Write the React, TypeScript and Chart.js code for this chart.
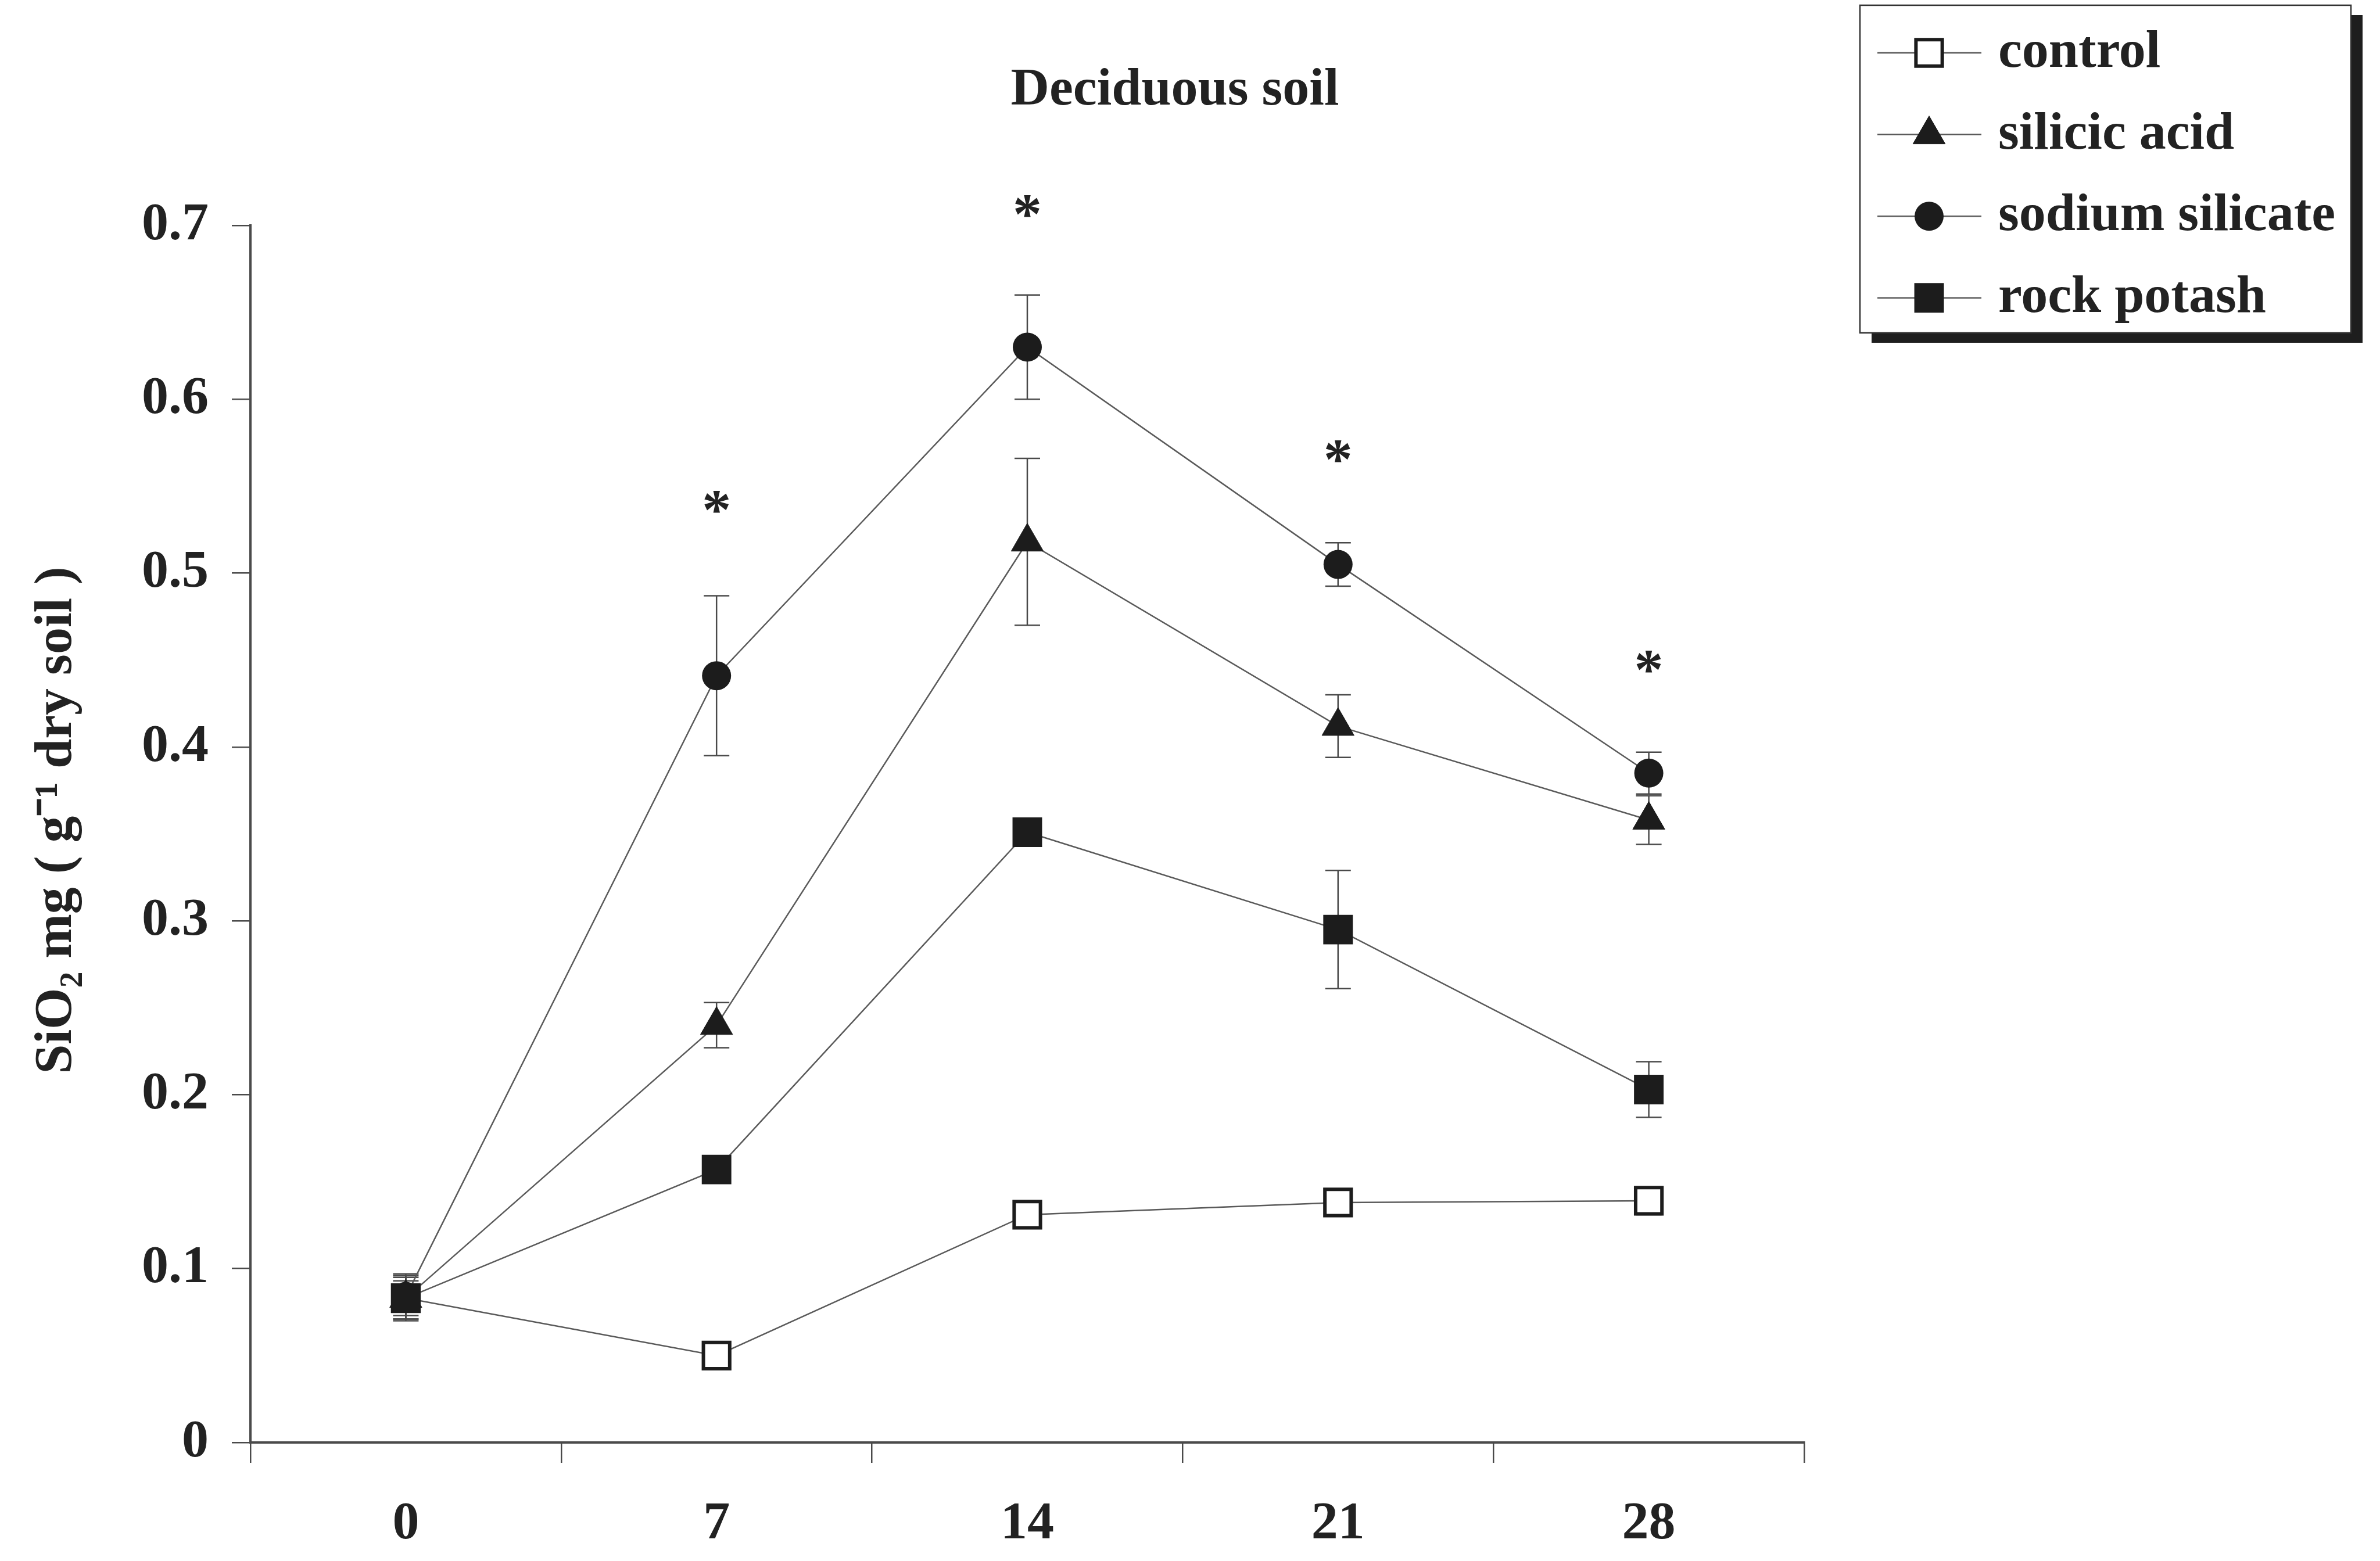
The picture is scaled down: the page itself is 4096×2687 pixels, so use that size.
import React, { useEffect, useRef } from 'react';
import { Chart, registerables } from 'chart.js';

Chart.register(...registerables);

// ---------- data ----------
const days = ['0', '7', '14', '21', '28'];
const yTickLabels = ['0', '0.1', '0.2', '0.3', '0.4', '0.5', '0.6', '0.7'];
const seriesNames = ['control', 'silicic acid', 'sodium silicate', 'rock potash'];

const controlValues = [0.083, 0.05, 0.131, 0.138, 0.139];
const controlErrors = [0.012, 0.008, 0.006, 0.006, 0.008];
const silicicValues = [0.083, 0.24, 0.518, 0.412, 0.358];
const silicicErrors = [0.010, 0.013, 0.048, 0.018, 0.014];
const sodiumValues = [0.084, 0.441, 0.63, 0.505, 0.385];
const sodiumErrors = [0.013, 0.046, 0.03, 0.0125, 0.012];
const potashValues = [0.083, 0.157, 0.351, 0.295, 0.203];
const potashErrors = [0.013, 0.006, 0.006, 0.034, 0.016];

// y value (data units) of the significance asterisks; null = none
const significanceMarkY = [null, 0.541, 0.711, 0.570, 0.449];

const chartTitle = 'Deciduous soil';
const yAxisTitle = 'SiO\u2082 mg ( g\u207B\u00B9 dry soil )';

// ---------- styles ----------
const FONT = "'Liberation Serif', 'Times New Roman', serif";
const FONT_SIZE = 92;
const TEXT = '#222222';
const AXIS = '#4a4a4a';
const LINE = '#5a5a5a';
const MARK = '#1c1c1c';

const markerStyles = ['openRect', 'triangle', 'circle', 'rect'];
const R_CIRCLE = 25;
const R_TRI = 32;
const R_RECT = 36;
const R_OPEN = 32;
const OPEN_BW = 6;

function drawMarker(ctx: CanvasRenderingContext2D, style: string, x: number, y: number) {
  ctx.save();
  ctx.fillStyle = MARK;
  ctx.strokeStyle = MARK;
  ctx.lineWidth = 1;
  ctx.beginPath();
  if (style === 'circle') {
    ctx.arc(x, y, R_CIRCLE, 0, Math.PI * 2);
    ctx.fill();
  } else if (style === 'triangle') {
    const r = R_TRI;
    ctx.moveTo(x, y - r);
    ctx.lineTo(x + r * Math.sin((2 * Math.PI) / 3), y - r * Math.cos((2 * Math.PI) / 3));
    ctx.lineTo(x + r * Math.sin((4 * Math.PI) / 3), y - r * Math.cos((4 * Math.PI) / 3));
    ctx.closePath();
    ctx.fill();
    ctx.stroke();
  } else if (style === 'rect') {
    const s = R_RECT * Math.SQRT1_2;
    ctx.rect(x - s, y - s, 2 * s, 2 * s);
    ctx.fill();
  } else {
    const s = R_OPEN * Math.SQRT1_2;
    ctx.rect(x - s, y - s, 2 * s, 2 * s);
    ctx.fillStyle = '#ffffff';
    ctx.fill();
    ctx.lineWidth = OPEN_BW;
    ctx.stroke();
  }
  ctx.restore();
}

const seriesValues = [controlValues, silicicValues, sodiumValues, potashValues];
const seriesErrors = [controlErrors, silicicErrors, sodiumErrors, potashErrors];

const annotationsPlugin = {
  id: 'annotations',
  beforeDatasetsDraw(chart: any) {
    const ctx: CanvasRenderingContext2D = chart.ctx;
    const yScale = chart.scales.y;
    ctx.save();
    ctx.strokeStyle = AXIS;
    ctx.lineWidth = 2.5;
    seriesValues.forEach((vals, d) => {
      const meta = chart.getDatasetMeta(d);
      vals.forEach((v, i) => {
        const e = seriesErrors[d][i];
        if (!e) return;
        const x = meta.data[i].x;
        const yt = yScale.getPixelForValue(v + e);
        const yb = yScale.getPixelForValue(v - e);
        ctx.beginPath();
        ctx.moveTo(x, yt);
        ctx.lineTo(x, yb);
        ctx.moveTo(x - 22, yt);
        ctx.lineTo(x + 22, yt);
        ctx.moveTo(x - 22, yb);
        ctx.lineTo(x + 22, yb);
        ctx.stroke();
      });
    });
    ctx.restore();
  },
  afterDraw(chart: any) {
    const ctx: CanvasRenderingContext2D = chart.ctx;
    const xScale = chart.scales.x;
    const yScale = chart.scales.y;
    ctx.save();
    ctx.fillStyle = TEXT;

    // title
    ctx.font = `bold ${FONT_SIZE}px ${FONT}`;
    ctx.textAlign = 'center';
    ctx.textBaseline = 'alphabetic';
    ctx.fillText(chartTitle, 2022, 180);

    // y axis title
    ctx.save();
    ctx.translate(122, 1412);
    ctx.rotate(-Math.PI / 2);
    ctx.textAlign = 'center';
    ctx.fillText(yAxisTitle, 0, 0);
    ctx.restore();

    // significance asterisks
    ctx.font = `bold 100px ${FONT}`;
    ctx.textAlign = 'center';
    const m = ctx.measureText('*');
    const off = (m.actualBoundingBoxAscent - m.actualBoundingBoxDescent) / 2;
    significanceMarkY.forEach((v, i) => {
      if (v == null) return;
      const x = xScale.getPixelForValue(i);
      const y = yScale.getPixelForValue(v);
      ctx.fillText('*', x, y + off);
    });

    // legend box with shadow
    const bx = 3201, by = 9, bw = 845, bh = 564;
    ctx.fillStyle = '#1e1e1e';
    ctx.fillRect(bx + 20, by + 17, bw, bh);
    ctx.fillStyle = '#ffffff';
    ctx.fillRect(bx, by, bw, bh);
    ctx.strokeStyle = '#333333';
    ctx.lineWidth = 2.5;
    ctx.strokeRect(bx, by, bw, bh);

    ctx.font = `bold ${FONT_SIZE}px ${FONT}`;
    ctx.textAlign = 'left';
    ctx.textBaseline = 'alphabetic';
    seriesNames.forEach((name, i) => {
      const y = 91 + i * 140.6;
      ctx.strokeStyle = LINE;
      ctx.lineWidth = 2.5;
      ctx.beginPath();
      ctx.moveTo(3231, y);
      ctx.lineTo(3410, y);
      ctx.stroke();
      drawMarker(ctx, markerStyles[i], 3320, y);
      ctx.fillStyle = TEXT;
      ctx.fillText(name, 3439, y + 24);
    });
    ctx.restore();
  },
};

function makeDataset(i: number) {
  const style = markerStyles[i];
  const base: any = {
    label: seriesNames[i],
    data: seriesValues[i],
    borderColor: LINE,
    borderWidth: 2.5,
    tension: 0,
    fill: false,
    pointBackgroundColor: MARK,
    pointBorderColor: MARK,
    pointBorderWidth: 1,
    pointHoverRadius: 0,
    clip: false,
  };
  if (style === 'openRect') {
    base.pointStyle = 'rect';
    base.pointRadius = R_OPEN;
    base.pointBackgroundColor = '#ffffff';
    base.pointBorderWidth = OPEN_BW;
    base.order = 4;
  } else if (style === 'triangle') {
    base.pointStyle = 'triangle';
    base.pointRadius = R_TRI;
    base.order = 3;
  } else if (style === 'circle') {
    base.pointStyle = 'circle';
    base.pointRadius = R_CIRCLE;
    base.pointBorderWidth = 0;
    base.order = 2;
  } else {
    base.pointStyle = 'rect';
    base.pointRadius = R_RECT;
    base.pointBorderWidth = 0;
    base.order = 1;
  }
  return base;
}

export default function App() {
  const ref = useRef<HTMLCanvasElement>(null);
  useEffect(() => {
    document.body.style.margin = '0';
    const tickFont = { family: FONT, size: FONT_SIZE, weight: 'bold' as const };
    const chart = new Chart(ref.current as HTMLCanvasElement, {
      type: 'line',
      data: {
        labels: days,
        datasets: seriesNames.map((_, i) => makeDataset(i)),
      },
      options: {
        responsive: false,
        animation: false,
        devicePixelRatio: 1,
        layout: { padding: { top: 388, right: 991, bottom: 0, left: 0 } },
        plugins: {
          legend: { display: false },
          tooltip: { enabled: false },
          title: { display: false },
        },
        events: [],
        scales: {
          x: {
            type: 'category',
            offset: true,
            grid: {
              display: true,
              offset: true,
              drawOnChartArea: false,
              drawTicks: true,
              tickLength: 35,
              color: AXIS,
              lineWidth: 2.5,
            },
            border: { display: true, color: AXIS, width: 4 },
            ticks: {
              font: tickFont,
              color: TEXT,
              padding: 51,
              maxRotation: 0,
              autoSkip: false,
            },
            afterFit: (s: any) => {
              s.height = 204;
            },
          },
          y: {
            min: 0,
            max: 0.7,
            grid: {
              display: true,
              drawOnChartArea: false,
              drawTicks: true,
              tickLength: 32,
              color: AXIS,
              lineWidth: 2.5,
            },
            border: { display: true, color: AXIS, width: 4 },
            ticks: {
              stepSize: 0.1,
              font: tickFont,
              color: TEXT,
              padding: 40,
              callback: (v: any) => yTickLabels[Math.round(Number(v) * 10)],
            },
            afterFit: (s: any) => {
              s.width = 431;
            },
          },
        },
      },
      plugins: [annotationsPlugin],
    });
    return () => chart.destroy();
  }, []);
  return (
    <div style={{ position: 'absolute', left: 0, top: 0, width: 4096, height: 2687, background: '#ffffff' }}>
      <canvas ref={ref} width={4096} height={2687} style={{ display: 'block', width: 4096, height: 2687 }} />
    </div>
  );
}
